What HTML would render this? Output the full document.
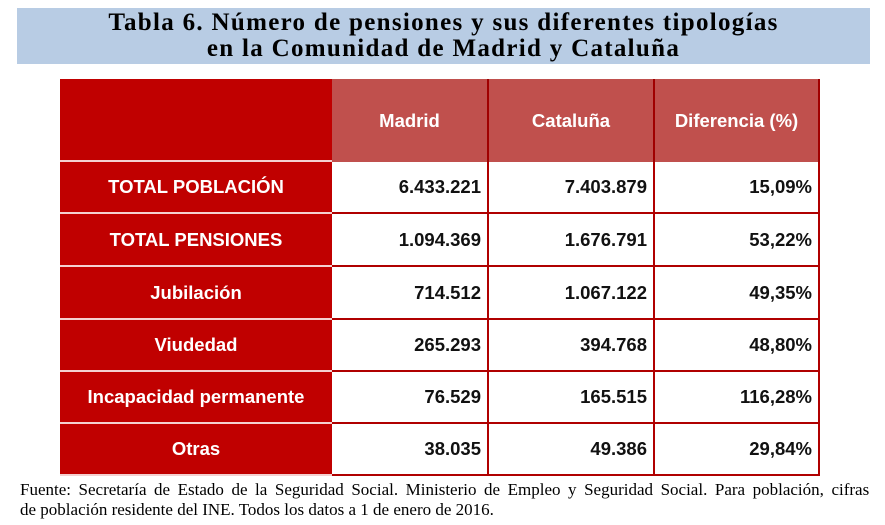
<!DOCTYPE html>
<html><head><meta charset="utf-8"><style>
body{margin:0;width:885px;height:525px;background:#fff;position:relative;overflow:hidden;font-family:"Liberation Sans",sans-serif}
#title{position:absolute;left:17px;top:8px;width:853px;height:56px;background:#b8cce4;text-align:center;font-family:"Liberation Serif",serif;font-weight:bold;font-size:25px;line-height:26px;padding-top:2px;box-sizing:border-box;letter-spacing:1.3px;white-space:nowrap}
.c{position:absolute;box-sizing:border-box;display:flex;align-items:center;font-weight:bold;font-size:18.5px}
.lab{background:#c00000;color:#fff;justify-content:center;border-bottom:2px solid #f4d0d0}
.hd{background:#c0504d;color:#fff;justify-content:center;border-right:2px solid #a00000}
.v{background:#fff;color:#111;justify-content:flex-end;padding-right:6px;border-right:2px solid #b00000;border-bottom:2px solid #b00000}
#foot{position:absolute;left:20px;top:480px;width:860px;font-family:"Liberation Serif",serif;font-size:17px;line-height:20px;color:#000;white-space:nowrap}
#foot .l1{word-spacing:3.3px}
</style></head><body>
<div id="title">Tabla 6. Número de pensiones y sus diferentes tipologías<br>en la Comunidad de Madrid y Cataluña</div>
<div id="tbl"></div>
<div id="foot"><span class="l1">Fuente: Secretaría de Estado de la Seguridad Social. Ministerio de Empleo y Seguridad Social. Para población, cifras</span><br>de población residente del INE. Todos los datos a 1 de enero de 2016.</div>
<script>
const headers=["Madrid","Cataluña","Diferencia (%)"];
const rowLabels=["TOTAL POBLACIÓN","TOTAL PENSIONES","Jubilación","Viudedad","Incapacidad permanente","Otras"];
const madrid=["6.433.221","1.094.369","714.512","265.293","76.529","38.035"];
const cataluna=["7.403.879","1.676.791","1.067.122","394.768","165.515","49.386"];
const diff=["15,09%","53,22%","49,35%","48,80%","116,28%","29,84%"];
const cols=[60,332,489,655,820];
const rows=[79,162,214,267,320,372,424,476];
const t=document.getElementById('tbl');
function cell(cls,x0,x1,y0,y1,txt,name){
 const d=document.createElement('div');d.className='c '+cls;
 d.style.left=x0+'px';d.style.top=y0+'px';d.style.width=(x1-x0)+'px';d.style.height=(y1-y0)+'px';
 d.textContent=txt;
 
 
 t.appendChild(d);
}
cell('lab',cols[0],cols[1],rows[0],rows[1],'','header-corner');
headers.forEach((h,i)=>cell('hd',cols[i+1],cols[i+2],rows[0],rows[1],h,'column-header'));
const series=[madrid,cataluna,diff];
rowLabels.forEach((l,r)=>{
 cell('lab',cols[0],cols[1],rows[r+1],rows[r+2],l,'row-label');
 series.forEach((s,i)=>cell('v',cols[i+1],cols[i+2],rows[r+1],rows[r+2],s[r],'value-cell'));
});
</script>
</body></html>
